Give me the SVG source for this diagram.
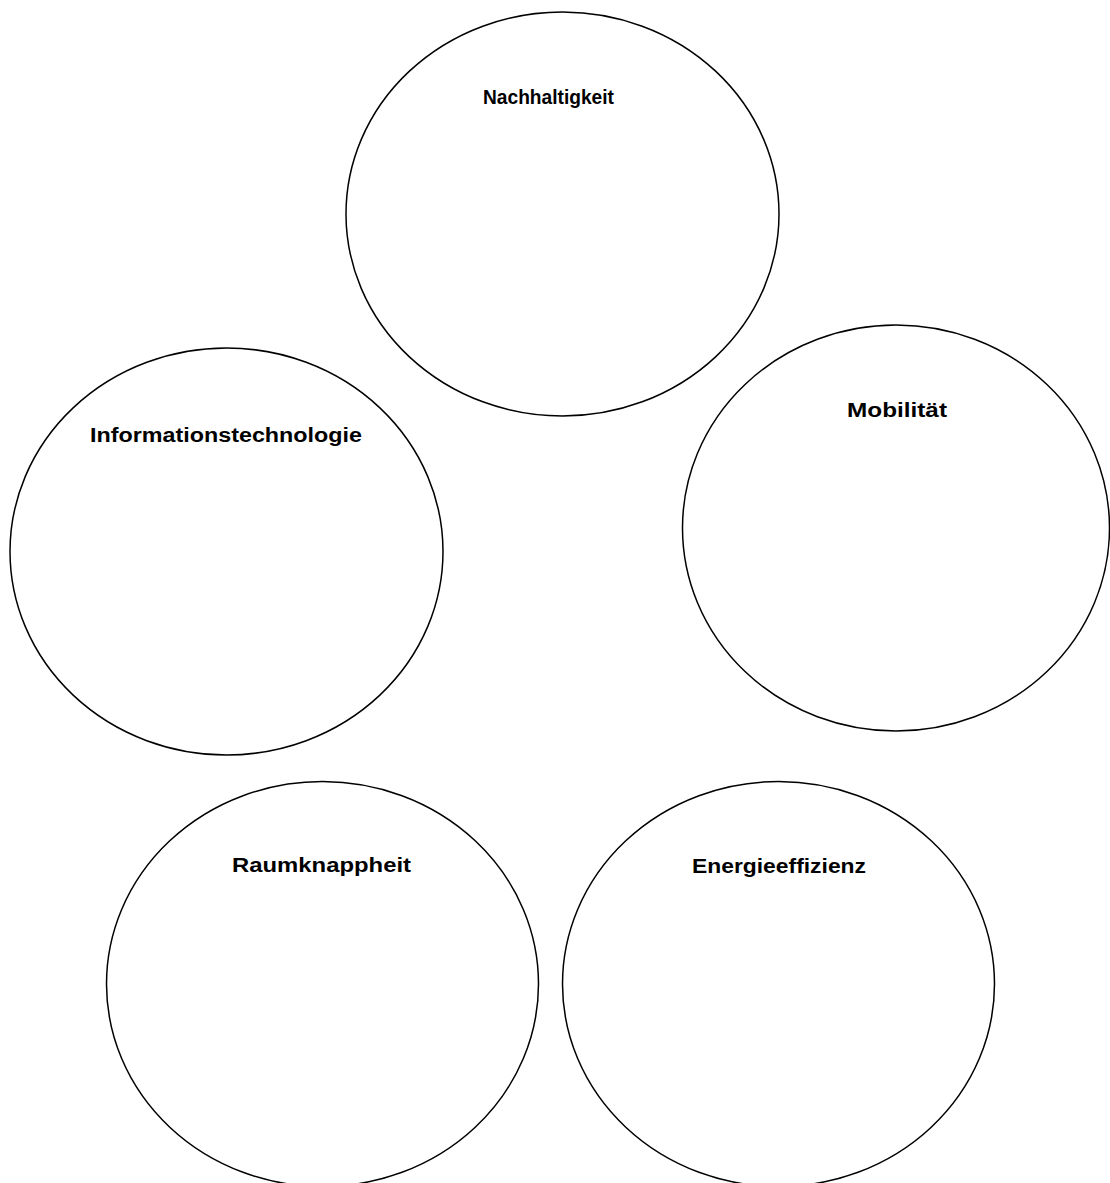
<svg xmlns="http://www.w3.org/2000/svg" width="1110" height="1183" viewBox="0 0 1110 1183">
<style>
.c{fill:#fff;stroke:#000;stroke-width:1.5}
.t{font-family:"Liberation Sans",Arial,sans-serif;font-weight:bold;font-size:19.5px;fill:#000}
</style>
<rect width="1110" height="1183" fill="#fff"/>
<g id="nachhaltigkeit"><ellipse class="c" cx="562.5" cy="214" rx="216.5" ry="202"/><text class="t" x="483" y="104" textLength="131" lengthAdjust="spacingAndGlyphs">Nachhaltigkeit</text></g>
<g id="informationstechnologie"><ellipse class="c" cx="226.5" cy="551.5" rx="216.5" ry="203.5"/><text class="t" x="90" y="442" textLength="272" lengthAdjust="spacingAndGlyphs">Informationstechnologie</text></g>
<g id="mobilitaet"><ellipse class="c" cx="896" cy="528" rx="213.5" ry="203"/><text class="t" x="847" y="417" textLength="100" lengthAdjust="spacingAndGlyphs">Mobilität</text></g>
<g id="raumknappheit"><ellipse class="c" cx="322.5" cy="984" rx="216" ry="202.5"/><text class="t" x="232" y="872" textLength="179" lengthAdjust="spacingAndGlyphs">Raumknappheit</text></g>
<g id="energieeffizienz"><ellipse class="c" cx="778.5" cy="984" rx="216" ry="202.5"/><text class="t" x="692" y="873" textLength="174" lengthAdjust="spacingAndGlyphs">Energieeffizienz</text></g>
<g id="connectors"/>
</svg>
